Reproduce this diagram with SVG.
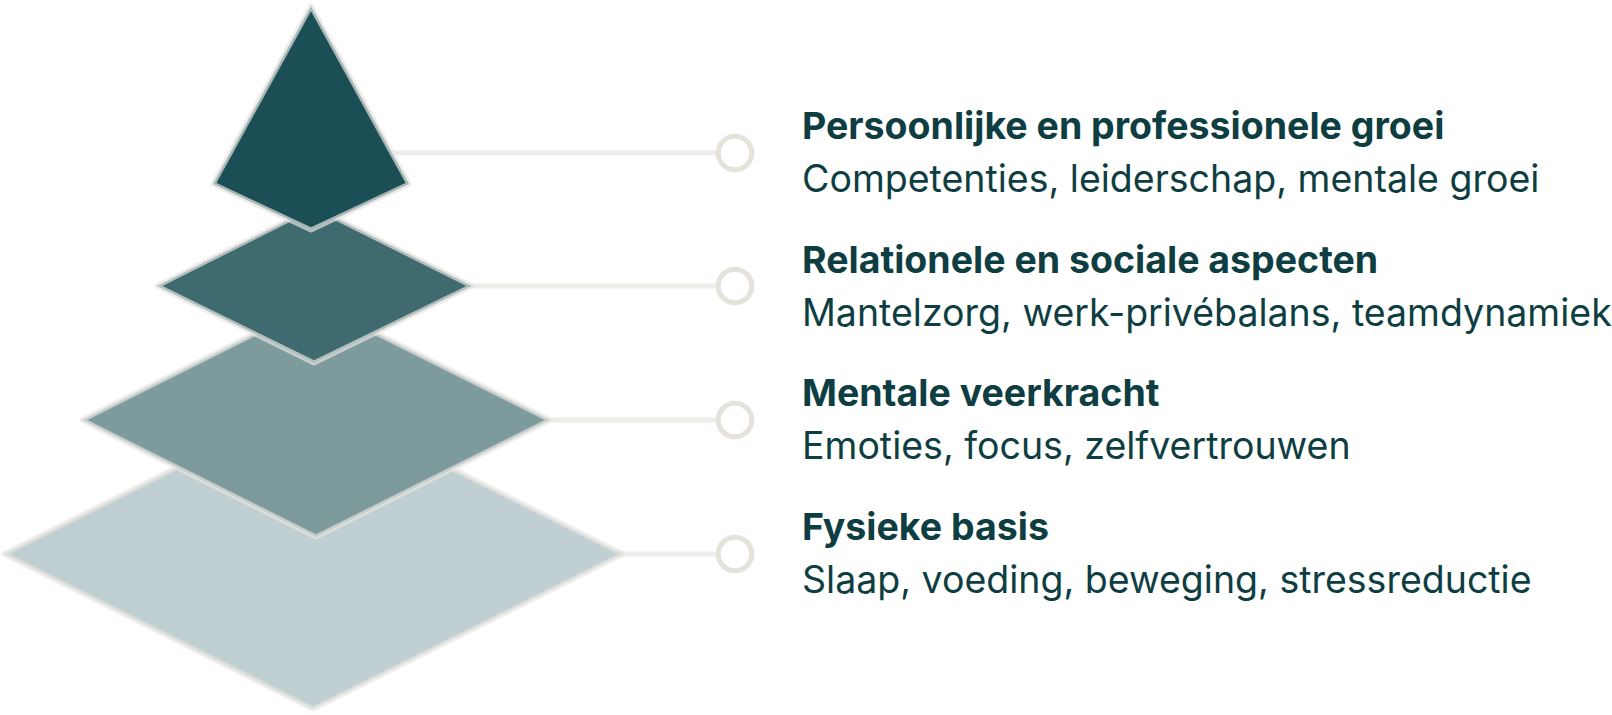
<svg xmlns="http://www.w3.org/2000/svg" width="1612" height="715" viewBox="0 0 1612 715">
<style>
.layer{stroke:#e6e4df;stroke-opacity:0.7;stroke-width:5;stroke-linejoin:round}
.conn{stroke:#eeede9;stroke-width:5;fill:none}
.dot{stroke:#e5e2dc;stroke-width:5;fill:#ffffff}
.title{font-family:Inter,"Liberation Sans",sans-serif;font-weight:700;font-size:37.5px;fill:#0e3e42}
.sub{font-family:Inter,"Liberation Sans",sans-serif;font-weight:400;font-size:37.5px;fill:#0e3e42}
</style>
<rect width="1612" height="715" fill="#ffffff"/>
<g id="connectors">
<line class="conn" x1="311" y1="153" x2="718" y2="153"/>
<line class="conn" x1="314" y1="286" x2="718" y2="286"/>
<line class="conn" x1="316" y1="420" x2="718" y2="420"/>
<line class="conn" x1="313" y1="554" x2="718" y2="554"/>
<circle class="dot" cx="735" cy="153" r="16.8"/>
<circle class="dot" cx="735" cy="286" r="16.8"/>
<circle class="dot" cx="735" cy="420" r="16.8"/>
<circle class="dot" cx="735" cy="554" r="16.8"/>
</g>
<g id="layer4">
<polygon class="layer" fill="#bfcfd2" points="313,399 623,554 313,709 4,554"/>
</g>
<g id="layer3">
<polygon class="layer" fill="#7d9a9d" points="316,303 550,420 316,537 82,420"/>
</g>
<g id="layer2">
<polygon class="layer" fill="#3f6b70" points="314,207 472,286 314,363 157,286"/>
</g>
<g id="layer1">
<polygon class="layer" fill="#1b4f55" points="311,6 409,184 311,230 213,184"/>
</g>
<g id="label1">
<text class="title" x="802" y="139">Persoonlijke en professionele groei</text>
<text class="sub" x="802" y="192">Competenties, leiderschap, mentale groei</text>
</g>
<g id="label2">
<text class="title" x="802" y="272.5">Relationele en sociale aspecten</text>
<text class="sub" x="802" y="325.5">Mantelzorg, werk-privébalans, teamdynamiek</text>
</g>
<g id="label3">
<text class="title" x="802" y="406">Mentale veerkracht</text>
<text class="sub" x="802" y="459">Emoties, focus, zelfvertrouwen</text>
</g>
<g id="label4">
<text class="title" x="802" y="539.5">Fysieke basis</text>
<text class="sub" x="802" y="592.5">Slaap, voeding, beweging, stressreductie</text>
</g>
</svg>
